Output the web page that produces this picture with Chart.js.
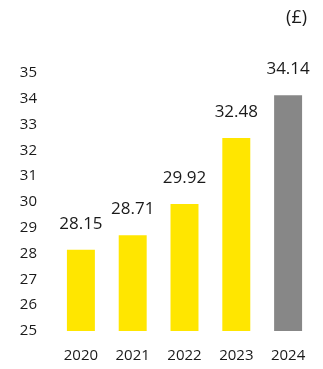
<!DOCTYPE html>
<html>
<head>
<meta charset="utf-8">
<script src="https://cdn.jsdelivr.net/npm/chart.js@4"></script>
<style>
  body { margin: 0; background: #fff; }
  #wrap { width: 323px; height: 369px; position: relative; }
</style>
</head>
<body>
<div id="wrap"><canvas id="priceChart"></canvas></div>
<script>
const years = ["2020", "2021", "2022", "2023", "2024"];
const values = [28.15, 28.71, 29.92, 32.48, 34.14];
const barColors = ["#ffe600", "#ffe600", "#ffe600", "#ffe600", "#878787"];
const unitLabel = "(£)";
const yMin = 25;
const yMax = 35;

const textColor = "#1a1a1a";
const fontFamily = "'Open Sans', sans-serif";

// value above each bar + unit in the top right corner
const labelsPlugin = {
  id: "labels",
  afterDatasetsDraw(chart) {
    const ctx = chart.ctx;
    const meta = chart.getDatasetMeta(0);
    ctx.save();
    ctx.fillStyle = textColor;
    ctx.font = "17px " + fontFamily;
    ctx.textAlign = "center";
    ctx.textBaseline = "alphabetic";
    meta.data.forEach((bar, i) => {
      ctx.fillText(values[i].toFixed(2), bar.x, bar.y - 21);
    });
    ctx.font = "18px " + fontFamily;
    ctx.textAlign = "right";
    ctx.textBaseline = "middle";
    ctx.fillText(unitLabel, 307, 18);
    ctx.restore();
  },
};

new Chart(document.getElementById("priceChart"), {
  type: "bar",
  data: {
    labels: years,
    datasets: [
      {
        data: values,
        backgroundColor: barColors,
        borderWidth: 0,
        barPercentage: 0.54,
        categoryPercentage: 1,
      },
    ],
  },
  options: {
    responsive: true,
    maintainAspectRatio: false,
    animation: false,
    layout: { padding: { top: 73, right: 9, left: 0, bottom: 0 } },
    plugins: {
      legend: { display: false },
      tooltip: { enabled: false },
    },
    scales: {
      x: {
        grid: { display: false, drawTicks: false },
        border: { display: false },
        ticks: { color: textColor, font: { family: fontFamily, size: 15 }, padding: 16 },
        afterFit: (s) => { s.height = 38; },
      },
      y: {
        min: yMin,
        max: yMax,
        grid: { display: false, drawTicks: false },
        border: { display: false },
        ticks: { stepSize: 1, color: textColor, font: { family: fontFamily, size: 15 }, padding: 18 },
        afterFit: (s) => { s.width = 55; },
      },
    },
  },
  plugins: [labelsPlugin],
});
</script>
</body>
</html>
